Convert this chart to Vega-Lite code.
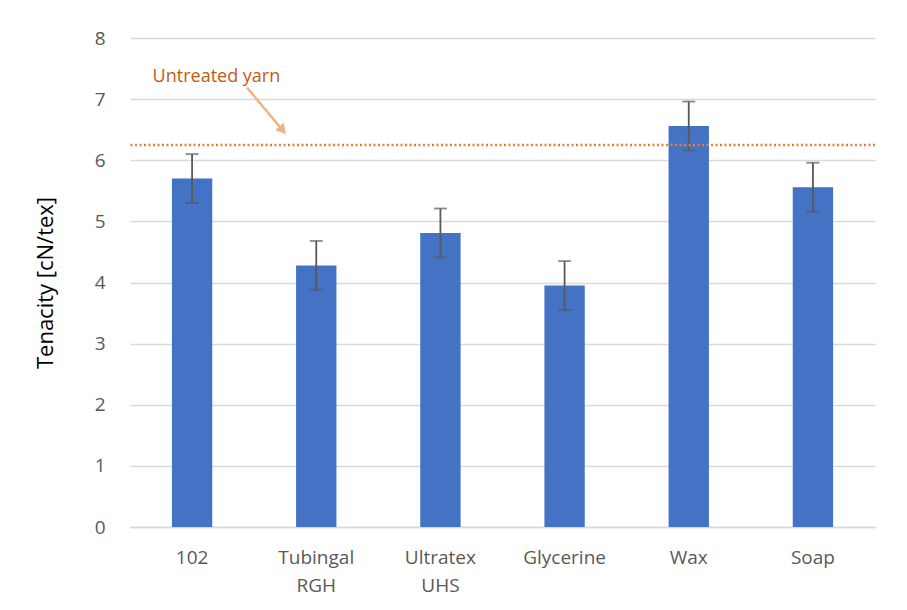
{
  "$schema": "https://vega.github.io/schema/vega-lite/v6.json",
  "autosize": {"type": "none"},
  "width": 745,
  "height": 489,
  "padding": {"left": 130, "top": 38, "right": 32, "bottom": 83},
  "background": "white",
  "config": {
    "font": "Open Sans",
    "view": {"stroke": null},
    "axis": {"labelFont": "Open Sans", "titleFont": "Open Sans"}
  },
  "layer": [
    {
      "data": {
        "values": [
          {"treatment": "102", "tenacity": 5.70, "lo": 5.30, "hi": 6.10},
          {"treatment": "Tubingal RGH", "tenacity": 4.28, "lo": 3.88, "hi": 4.68},
          {"treatment": "Ultratex UHS", "tenacity": 4.81, "lo": 4.41, "hi": 5.21},
          {"treatment": "Glycerine", "tenacity": 3.95, "lo": 3.55, "hi": 4.35},
          {"treatment": "Wax", "tenacity": 6.56, "lo": 6.16, "hi": 6.96},
          {"treatment": "Soap", "tenacity": 5.56, "lo": 5.16, "hi": 5.96}
        ]
      },
      "encoding": {
        "x": {
          "field": "treatment",
          "type": "nominal",
          "sort": null,
          "scale": {"paddingInner": 0.675, "paddingOuter": 0.3375},
          "axis": {
            "title": null,
            "labelAngle": 0,
            "labelExpr": "split(datum.label, ' ')",
            "labelFontSize": 19,
            "labelColor": "#595959",
            "labelPadding": 21,
            "labelLineHeight": 28,
            "labelBaseline": "top",
            "ticks": false,
            "domainColor": "#d9d9d9",
            "domainWidth": 1.5
          }
        }
      },
      "layer": [
        {
          "mark": {"type": "bar", "color": "#4472C4"},
          "encoding": {
            "y": {
              "field": "tenacity",
              "type": "quantitative",
              "scale": {"domain": [0, 8], "nice": false},
              "axis": {
                "title": "Tenacity [cN/tex]",
                "titleFontSize": 22,
                "titleFontWeight": "normal",
                "titleColor": "#000000",
                "titlePadding": 37,
                "labelFontSize": 19,
                "labelColor": "#595959",
                "labelPadding": 25,
                "tickCount": 8,
                "ticks": false,
                "domain": false,
                "gridColor": "#d9d9d9",
                "gridWidth": 1.5
              }
            }
          }
        },
        {
          "mark": {"type": "rule", "color": "#595959", "strokeWidth": 1.8},
          "encoding": {
            "y": {"field": "lo", "type": "quantitative"},
            "y2": {"field": "hi"}
          }
        },
        {
          "mark": {"type": "tick", "color": "#595959", "size": 13, "thickness": 1.8},
          "encoding": {"y": {"field": "lo", "type": "quantitative"}}
        },
        {
          "mark": {"type": "tick", "color": "#595959", "size": 13, "thickness": 1.8},
          "encoding": {"y": {"field": "hi", "type": "quantitative"}}
        }
      ]
    },
    {
      "data": {"values": [{"untreated": 6.25}]},
      "mark": {"type": "rule", "color": "#ED7D31", "strokeWidth": 2.5, "strokeDash": [2, 2.5]},
      "encoding": {"y": {"field": "untreated", "type": "quantitative"}}
    },
    {
      "data": {
        "values": [
          {"label": "Untreated yarn", "tx": 0.116, "ty": 7.37, "ax": 0.157, "ay": 7.19, "bx": 0.205, "by": 6.49}
        ]
      },
      "layer": [
        {
          "mark": {"type": "text", "color": "#C55A11", "fontSize": 18, "font": "Open Sans"},
          "encoding": {
            "x": {"field": "tx", "type": "quantitative", "scale": {"domain": [0, 1]}, "axis": null},
            "y": {"field": "ty", "type": "quantitative"},
            "text": {"field": "label"}
          }
        },
        {
          "mark": {"type": "rule", "color": "#F4B183", "strokeWidth": 2.5},
          "encoding": {
            "x": {"field": "ax", "type": "quantitative", "scale": {"domain": [0, 1]}, "axis": null},
            "y": {"field": "ay", "type": "quantitative"},
            "x2": {"field": "bx"},
            "y2": {"field": "by"}
          }
        },
        {
          "mark": {"type": "point", "shape": "triangle-up", "filled": true, "color": "#F4B183", "opacity": 1, "size": 130, "angle": 139},
          "encoding": {
            "x": {"field": "bx", "type": "quantitative", "scale": {"domain": [0, 1]}, "axis": null},
            "y": {"field": "by", "type": "quantitative"}
          }
        }
      ]
    }
  ],
  "resolve": {"scale": {"x": "independent"}}
}
